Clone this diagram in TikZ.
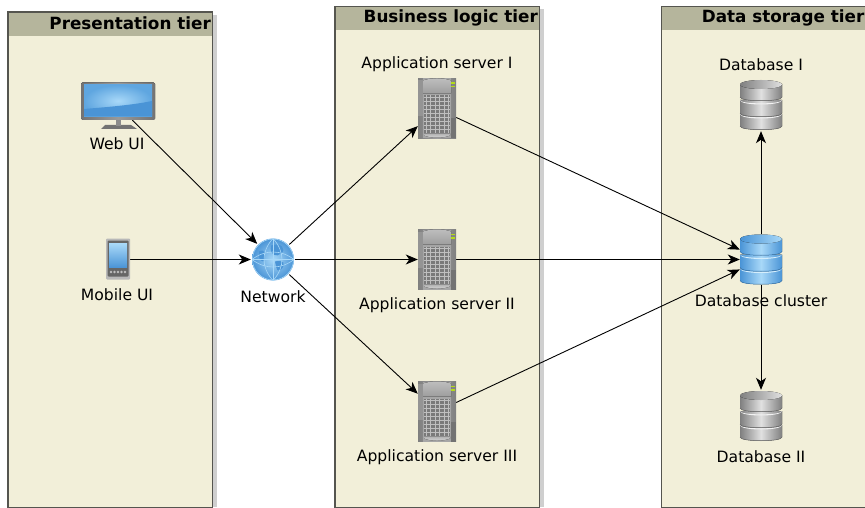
\documentclass[tikz,border=0pt]{standalone}
\usepackage{fontspec}
\setmainfont{DejaVu Sans}
\usetikzlibrary{arrows.meta}
\definecolor{tierfill}{HTML}{F2EFD9}
\definecolor{tierhead}{HTML}{B5B59C}
\definecolor{tierline}{HTML}{55554F}
\definecolor{tiershade}{HTML}{CFCFCF}
\definecolor{iconblue}{HTML}{4A94D6}
\definecolor{iconsky}{HTML}{A8D8F8}
\definecolor{iconpale}{HTML}{D6EEFC}
\definecolor{iconmid}{HTML}{5FA6E0}

\tikzset{
  pics/dbstack/.style args={#1/#2/#3}{code={
    \colorlet{dbedge}{#1}
    \foreach \t/\h in {34/12,20/13,4/13}{%
      \fill[left color=#1,right color=#1,middle color=#2]
        (-21,\t-25) -- (-21,\t-25+\h)
        .. controls (-21,\t-25+\h+5) and (21,\t-25+\h+5) .. (21,\t-25+\h)
        -- (21,\t-25) -- cycle;
      \fill[#3] (-21,\t-25) .. controls (-21,\t-25+6) and (21,\t-25+6) .. (21,\t-25)
        .. controls (21,\t-25+4.5) and (-21,\t-25+4.5) .. cycle;
      \draw[dbedge!85!black,line width=.5pt] (-21,\t-25+\h) .. controls (-21,\t-25+\h+5) and (21,\t-25+\h+5) .. (21,\t-25+\h);
    }
    \fill[left color=#1,right color=#2] (0,-20.5) ellipse [x radius=21,y radius=4.5];
  }},
  pics/towerbox/.style={code={
    \fill[left color=black!50,right color=black!50,middle color=black!38] (-19,-30) rectangle (19,30);
    \fill[black!35] (-14,-30) rectangle (14,30);
    \fill[top color=black!25,bottom color=black!38] (-14,-28) .. controls (-5,-31) and (5,-31) .. (14,-28) -- (14,-15) -- (-14,-15) -- cycle;
    \fill[black!42] (-19,-28) rectangle (-14,8);
    \fill[black!55] (14,10) rectangle (19,30);
    \fill[yellow!70!green] (14,-26) rectangle (18,-24.5);
    \fill[yellow!70!green] (14,-22.5) rectangle (18,-21);
    \fill[black!52] (-13,-13) rectangle (13,27);
    \foreach \v in {-11,-7,...,25}
      \draw[black!25,line width=1pt] (-13,\v) -- (13,\v);
    \foreach \u in {-11,-6.5,...,12}
      \draw[black!25,line width=1pt] (\u,-13) -- (\u,27);
    \fill[top color=black!30,bottom color=black!15] (-13,27) .. controls (-5,30) and (5,30) .. (13,27) -- (13,25) -- (-13,25) -- cycle;
  }},
  pics/screenbox/.style={code={
    \fill[black!55] (-17,23) -- (-13,19) -- (13,19) -- (19,23) -- cycle;
    \fill[black!45] (-2.5,14) rectangle (2.5,20);
    \fill[rounded corners=1.5pt,left color=black!55,right color=black!55,middle color=black!40] (-37,-23.5) rectangle (37,14);
    \shade[inner color=iconsky,outer color=iconmid] (-34,-21) rectangle (34,10.5);
    \fill[iconblue] (-34,3) .. controls (-10,1) and (15,-1) .. (34,-5) -- (34,10.5) -- (-34,10.5) -- cycle;
  }},
  pics/phonebox/.style={code={
    \fill[rounded corners=1pt,black!28] (-12,-21) rectangle (12,20);
    \fill[rounded corners=1pt,black!60] (-10.5,-19) rectangle (10.5,17);
    \fill[top color=iconsky,bottom color=iconblue] (-9,-16) rectangle (9,8);
    \foreach \u in {-7,-3.5,...,7}
      \fill[black!25] (\u,12.5) circle (1.3);
  }},
  pics/globebox/.style={code={
    \shade[inner color=iconsky,outer color=iconblue] (0,0) circle (21);
    \fill[iconblue] (-2,-14) .. controls (8,-18) and (14,-10) .. (8,-6)
      .. controls (4,-2) and (-4,-4) .. cycle;
    \fill[iconblue] (-14,-8) .. controls (-8,-12) and (-6,-4) .. (-10,2) .. controls (-14,0) .. cycle;
    \fill[iconblue] (2,2) .. controls (10,0) and (14,4) .. (8,10) .. controls (4,12) .. cycle;
    \draw[iconsky,line width=.6pt] (0,0) circle (20.5);
    \draw[iconsky,line width=.6pt] (0,-21) .. controls (-12,-8) and (-12,8) .. (0,21)
      .. controls (12,8) and (12,-8) .. (0,-21);
    \draw[iconsky,line width=.6pt] (-21,0) .. controls (-8,-10) and (8,-10) .. (21,0)
      .. controls (8,10) and (-8,10) .. (-21,0);
    \draw[iconsky,line width=.6pt] (0,-21) -- (0,21) (-21,0) -- (21,0);
  }}
}

\begin{document}
\begin{tikzpicture}[x=1pt,y=-1pt,%
    tier/.style={fill=tierfill,rectangle,inner sep=0pt,minimum width=204pt,anchor=north west},
    tierhead/.style={fill=tierhead,rectangle,inner sep=0pt,minimum width=204pt,minimum height=23.5pt,anchor=north west},
    tiertitle/.style={font=\bfseries\fontsize{16.8}{18}\selectfont,anchor=east,inner sep=0pt},
    caption/.style={font=\fontsize{15.6}{18}\selectfont,inner sep=0pt},
    spot/.style={rectangle,inner sep=0pt},
    link/.style={-{Stealth[length=12pt,width=10pt,inset=3.5pt]},line width=.9pt}]

  \useasboundingbox (0,0) rectangle (865,508);
  \clip (0,0) rectangle (865,508);

  % tiers: name/left/top/height/title
  \foreach \tname/\tx/\ty/\th/\ttitle in {%
     present/8/12/495/Presentation tier,%
     logic/335/6.5/500.5/Business logic tier,%
     storage/661.5/6.5/500.5/Data storage tier%
     } {
     \fill[tiershade] (\tx+5,\ty+3) rectangle (\tx+209,507);
     \node[tier,minimum height=\th pt] (\tname) at (\tx,\ty) {};
     \node[tierhead] (\tname-head) at (\tx,\ty) {};
     \draw[tierline,line width=1.2pt] (\tname.north west) rectangle (\tname.south east);
     \node[tiertitle] (\tname-title) at (\tx+203,\ty+11.5) {\ttitle};
  }

  % places of the icons, arrows stop at their borders
  \node[spot,minimum width=74pt,minimum height=28pt] (web) at (118,106) {};
  \node[spot,minimum width=24pt,minimum height=42pt] (mobile) at (118,259.5) {};
  \node[circle,inner sep=0pt,minimum size=44pt] (network) at (273,259.5) {};
  \foreach \sname/\sy in {appI/108.5,appII/259.5,appIII/411.5}
     \node[spot,minimum width=38pt,minimum height=60pt] (\sname) at (437,\sy) {};
  \node[spot,minimum width=42pt,minimum height=50pt] (cluster) at (761,259.5) {};
  \node[spot,minimum width=42pt,minimum height=52pt] (dbI) at (761,105) {};
  \node[spot,minimum width=42pt,minimum height=52pt] (dbII) at (761,416) {};

  \foreach \from/\to in {web/network,mobile/network,network/appI,network/appII,network/appIII,%
     appI/cluster,appII/cluster,appIII/cluster,cluster/dbI,cluster/dbII}
     \draw[link] (\from) -- (\to);

  \pic at (web) {screenbox};
  \pic at (mobile) {phonebox};
  \pic at (network) {globebox};
  \foreach \sname in {appI,appII,appIII}
     \pic at (\sname) {towerbox};
  \pic at (cluster) {dbstack=iconblue/iconsky/iconpale};
  \pic at (dbI) {dbstack=black!50/black!12/black!5};
  \pic at (dbII) {dbstack=black!50/black!12/black!5};

  \foreach \lname/\lx/\ly/\ltext in {%
     web/117/143.5/Web UI,%
     mobile/117/295/Mobile UI,%
     network/273/296.5/Network,%
     appI/437/64.5/Application server I,%
     appII/437/305.5/Application server II,%
     appIII/437/457/Application server III,%
     dbI/761/64.5/Database I,%
     cluster/761/301/Database cluster,%
     dbII/761/457/Database II%
     } {
     \node[caption] (\lname-text) at (\lx,\ly) {\ltext};
  }
\end{tikzpicture}
\end{document}
